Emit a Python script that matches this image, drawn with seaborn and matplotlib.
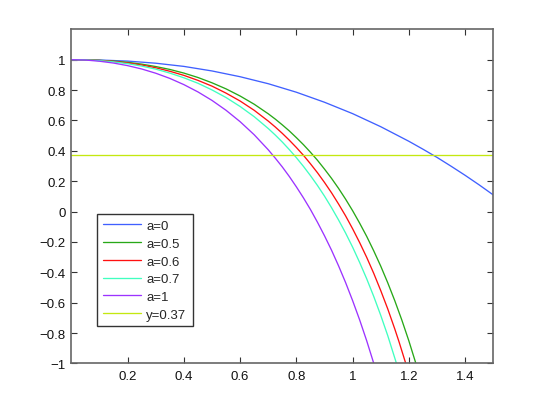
import matplotlib
matplotlib.use("Agg")
import matplotlib.pyplot as plt
import matplotlib.ticker as mticker
import seaborn as sns
import pandas as pd

# values
x_a0 = [0.0, 0.1, 0.2, 0.3, 0.4, 0.5, 0.6, 0.7, 0.8, 0.9, 1.0, 1.1, 1.2, 1.25, 1.3, 1.35, 1.4, 1.45, 1.5]
y_a0 = [1.0, 0.998, 0.991, 0.977, 0.956, 0.926, 0.888, 0.842, 0.786, 0.720, 0.645, 0.559, 0.463, 0.411,
        0.357, 0.299, 0.239, 0.176, 0.110]

x_a05 = [0.0, 0.05, 0.1, 0.15, 0.2, 0.25, 0.3, 0.35, 0.4, 0.45, 0.5, 0.55, 0.6, 0.65, 0.7, 0.725, 0.75,
         0.775, 0.8, 0.825, 0.85, 0.875, 0.9, 0.925, 0.95, 0.975, 1.0, 1.025, 1.05, 1.075, 1.1, 1.125,
         1.15, 1.175, 1.2, 1.225]
y_a05 = [1.0, 0.999, 0.996, 0.991, 0.983, 0.971, 0.955, 0.936, 0.912, 0.883, 0.848, 0.808, 0.761, 0.707,
         0.644, 0.609, 0.571, 0.531, 0.487, 0.441, 0.391, 0.338, 0.280, 0.219, 0.153, 0.082, 0.006,
         -0.076, -0.163, -0.258, -0.359, -0.469, -0.587, -0.714, -0.851, -1.0]

x_a06 = [0.0, 0.05, 0.1, 0.15, 0.2, 0.25, 0.3, 0.35, 0.4, 0.45, 0.5, 0.55, 0.6, 0.65, 0.7, 0.725, 0.75,
         0.775, 0.8, 0.825, 0.85, 0.875, 0.9, 0.925, 0.95, 0.975, 1.0, 1.025, 1.05, 1.075, 1.1, 1.125,
         1.15, 1.165, 1.189]
y_a06 = [1.0, 0.999, 0.995, 0.989, 0.979, 0.965, 0.947, 0.924, 0.897, 0.864, 0.826, 0.780, 0.728, 0.667,
         0.596, 0.557, 0.515, 0.470, 0.422, 0.371, 0.315, 0.256, 0.192, 0.124, 0.050, -0.028, -0.113,
         -0.204, -0.301, -0.406, -0.520, -0.641, -0.773, -0.857, -1.0]

x_a07 = [0.0, 0.05, 0.1, 0.15, 0.2, 0.25, 0.3, 0.35, 0.4, 0.45, 0.5, 0.55, 0.6, 0.65, 0.7, 0.725, 0.75,
         0.775, 0.8, 0.825, 0.85, 0.875, 0.9, 0.925, 0.95, 0.975, 1.0, 1.025, 1.05, 1.075, 1.1, 1.125,
         1.156]
y_a07 = [1.0, 0.999, 0.994, 0.986, 0.974, 0.958, 0.938, 0.912, 0.881, 0.845, 0.801, 0.751, 0.692, 0.625,
         0.547, 0.504, 0.458, 0.408, 0.355, 0.298, 0.237, 0.172, 0.102, 0.026, -0.055, -0.141, -0.234,
         -0.335, -0.442, -0.558, -0.683, -0.817, -1.0]

x_a1 = [0.0, 0.05, 0.1, 0.15, 0.2, 0.25, 0.3, 0.35, 0.4, 0.45, 0.5, 0.55, 0.6, 0.65, 0.7, 0.725, 0.75,
        0.775, 0.8, 0.825, 0.85, 0.875, 0.9, 0.925, 0.95, 0.975, 1.0, 1.025, 1.05, 1.075]
y_a1 = [1.0, 0.998, 0.990, 0.978, 0.961, 0.939, 0.911, 0.877, 0.836, 0.788, 0.732, 0.667, 0.592, 0.506,
        0.407, 0.352, 0.294, 0.231, 0.163, 0.091, 0.014, -0.070, -0.159, -0.254, -0.357, -0.467, -0.586,
        -0.713, -0.850, -0.998]

x_line = [0.0, 1.5]
y_line = [0.37, 0.37]

labels = ["a=0", "a=0.5", "a=0.6", "a=0.7", "a=1", "y=0.37"]
colors = ["#4060ff", "#28a818", "#ff1010", "#40ffc0", "#9c33ff", "#c4e810"]

frames = []
for lab, xs, ys in zip(labels,
                       [x_a0, x_a05, x_a06, x_a07, x_a1, x_line],
                       [y_a0, y_a05, y_a06, y_a07, y_a1, y_line]):
    frames.append(pd.DataFrame({"x": xs, "y": ys, "curve": lab}))
df = pd.concat(frames, ignore_index=True)

sns.set_style("white")
plt.rcParams["font.family"] = ["Liberation Sans", "DejaVu Sans"]
plt.rcParams["axes.unicode_minus"] = True

fig = plt.figure(figsize=(5.45, 4.10), dpi=100)
ax = fig.add_axes([0.131, 0.111, 0.774, 0.815])

sns.lineplot(data=df, x="x", y="y", hue="curve", hue_order=labels,
             palette=dict(zip(labels, colors)), estimator=None, sort=False,
             linewidth=0.95, ax=ax)

ax.set_xlim(0, 1.5)
ax.set_ylim(-1, 1.2)
ax.set_xticks([0.2, 0.4, 0.6, 0.8, 1.0, 1.2, 1.4])
ax.set_yticks([-1, -0.8, -0.6, -0.4, -0.2, 0, 0.2, 0.4, 0.6, 0.8, 1])
fmt = mticker.FuncFormatter(lambda v, p: f"{v:g}".replace("-", "\u2212"))
ax.xaxis.set_major_formatter(fmt)
ax.yaxis.set_major_formatter(fmt)
ax.tick_params(direction="in", length=4, width=0.8, color="#333333",
               labelcolor="#111111", labelsize=9.5,
               top=True, right=True, bottom=True, left=True)
ax.tick_params(axis="y", pad=4)
ax.tick_params(axis="x", pad=5)
for s in ax.spines.values():
    s.set_visible(True)
    s.set_color("#666666")
    s.set_linewidth(1.2)
ax.set_xlabel("")
ax.set_ylabel("")
ax.grid(False)

handles, labs = ax.get_legend_handles_labels()
leg = ax.legend(handles, labs, loc="lower left",
                bbox_to_anchor=(0.061, 0.111, 0.227, 0.34), mode="expand",
                borderaxespad=0, fontsize=9.5, handlelength=2.9,
                handletextpad=0.4, borderpad=0.42, labelspacing=0.42,
                fancybox=False, framealpha=1, edgecolor="#333333")
leg.get_frame().set_linewidth(1.0)

fig.savefig("out.png", dpi=100, facecolor="white")
